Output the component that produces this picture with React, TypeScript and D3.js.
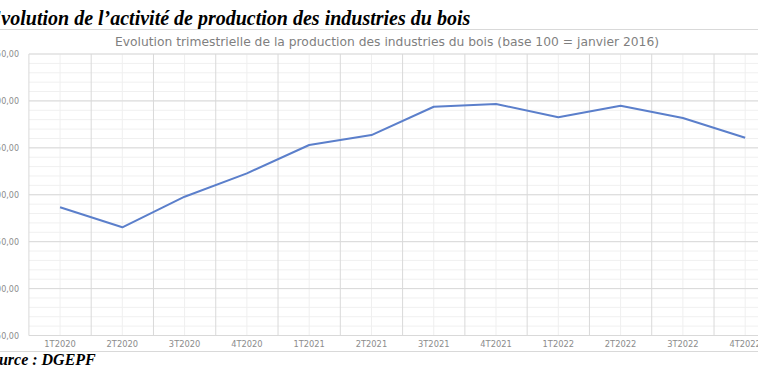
import React from "react";
import * as d3 from "d3";

const categories = ["1T2020","2T2020","3T2020","4T2020","1T2021","2T2021","3T2021","4T2021","1T2022","2T2022","3T2022","4T2022"];
const values = [186.6,165.3,197.9,222.8,253.0,263.6,293.8,296.7,282.5,294.9,281.8,260.8];
const yTicks = [50,100,150,200,250,300,350];
const yMinor = d3.range(50, 351, 10);

const W = 758, H = 380;
const plot = { left: 28.9, right: 776.3, top: 54, bottom: 335.5 };

export default function App() {
  const x = d3.scaleBand<string>().domain(categories).range([plot.left, plot.right]).padding(0);
  const y = d3.scaleLinear().domain([50, 350]).range([plot.bottom, plot.top]);
  const cx = (c: string) => (x(c) as number) + x.bandwidth() / 2;
  const line = d3.line<number>().x((_, i) => cx(categories[i])).y(d => y(d));
  const fmt = (v: number) => v.toFixed(2).replace(".", ",");
  const bounds = categories.map(c => x(c) as number).concat([plot.right]);
  return (
    <svg width={W} height={H} style={{ position: "absolute", left: 0, top: 0, background: "#fff" }}>
      <text x={-12} y={25} fontFamily="'Liberation Serif', 'Times New Roman', serif" fontWeight="bold" fontStyle="italic" fontSize={20} fill="#000">
        Evolution de l’activité de production des industries du bois
      </text>
      <rect x={-20} y={29.5} width={820} height={322} fill="none" stroke="#d9d9d9" strokeWidth={1} />
      <text x={387} y={46} textAnchor="middle" fontFamily="'DejaVu Sans', sans-serif" fontSize={12.3} fill="#7f7f7f">
        Evolution trimestrielle de la production des industries du bois (base 100 = janvier 2016)
      </text>
      {yMinor.map(v => (
        <line key={"hm" + v} x1={plot.left} x2={plot.right} y1={y(v)} y2={y(v)} stroke="#f0f0f0" strokeWidth={1} />
      ))}
      {categories.map(c => (
        <line key={"vm" + c} x1={cx(c)} x2={cx(c)} y1={plot.top} y2={plot.bottom} stroke="#efefef" strokeWidth={1} />
      ))}
      {yTicks.map(v => (
        <line key={"h" + v} x1={plot.left} x2={plot.right} y1={y(v)} y2={y(v)} stroke="#d9d9d9" strokeWidth={1} />
      ))}
      {bounds.map((b, i) => (
        <line key={"v" + i} x1={b} x2={b} y1={plot.top} y2={plot.bottom} stroke="#d9d9d9" strokeWidth={1} />
      ))}
      {yTicks.map(v => (
        <text key={"yl" + v} x={19} y={y(v) + 3} textAnchor="end" fontFamily="'DejaVu Sans', sans-serif" fontSize={8} fill="#8c8c8c">
          {fmt(v)}
        </text>
      ))}
      {categories.map(c => (
        <text key={"xl" + c} x={cx(c)} y={347} textAnchor="middle" fontFamily="'DejaVu Sans', sans-serif" fontSize={8.3} fill="#8c8c8c">
          {c}
        </text>
      ))}
      <path d={line(values) || ""} fill="none" stroke="#5b7fcb" strokeWidth={2} strokeLinejoin="round" />
      <text x={-18} y={365} fontFamily="'Liberation Serif', 'Times New Roman', serif" fontWeight="bold" fontStyle="italic" fontSize={16} fill="#000">
        Source : DGEPF
      </text>
    </svg>
  );
}
